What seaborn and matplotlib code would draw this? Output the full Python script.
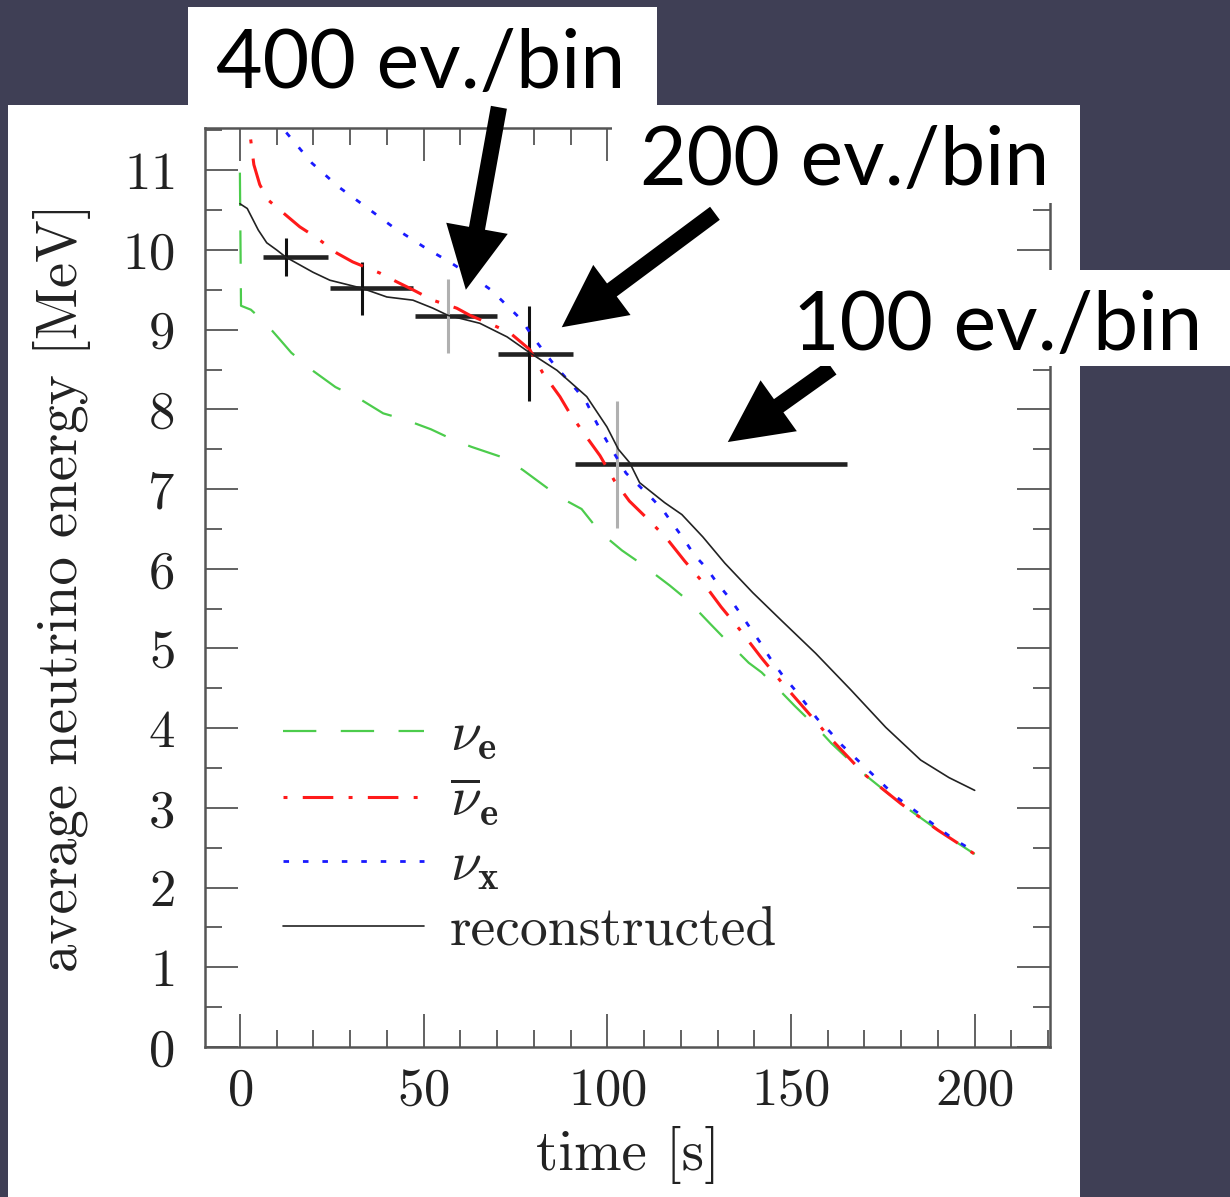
import matplotlib
matplotlib.use("Agg")
import matplotlib.pyplot as plt
from matplotlib.patches import Rectangle
from matplotlib.ticker import MultipleLocator
import seaborn as sns

# average neutrino energy curves
t_nue = [0, 0.3, 3, 7, 11, 14, 20, 26, 33, 39, 45, 52, 58, 63, 72, 77, 87, 93, 98, 104,
         109, 117, 122, 128, 132, 138.5, 142, 147, 151, 157, 161, 170, 180, 190, 200]
E_nue = [10.97, 9.3, 9.25, 9.08, 8.87, 8.71, 8.48, 8.28, 8.12, 7.95, 7.87, 7.75, 7.62, 7.53,
         7.39, 7.24, 6.9, 6.75, 6.46, 6.23, 6.07, 5.79, 5.6, 5.31, 5.12, 4.82, 4.7, 4.47,
         4.28, 4.01, 3.81, 3.42, 3.05, 2.72, 2.42]

t_nuebar = [1.5, 2.7, 3.8, 5.4, 7.6, 10.9, 16.3, 21, 26.4, 30.7, 38.1, 42.7, 47.1, 52.5, 59,
            62.6, 68.8, 73.5, 78.9, 82.4, 87.1, 89.8, 94.4, 98, 102, 106, 110, 116, 121, 126,
            131, 136, 142, 147, 154, 161, 170, 180, 190, 200]
E_nuebar = [12.2, 11.47, 11.07, 10.82, 10.63, 10.5, 10.29, 10.15, 9.96, 9.85, 9.71, 9.6, 9.5,
            9.37, 9.27, 9.18, 9.06, 8.96, 8.75, 8.46, 8.16, 7.95, 7.65, 7.42, 7.1, 6.85, 6.67,
            6.39, 6.1, 5.83, 5.52, 5.24, 4.88, 4.6, 4.23, 3.86, 3.42, 3.05, 2.72, 2.42]

t_nux = [6, 12.5, 19.6, 26.9, 34.3, 41.6, 50, 57.4, 63.4, 68.3, 73.2, 76.7, 79.7, 85.2, 91.7,
         94.4, 97.1, 100.5, 102.5, 105.1, 111.8, 115.1, 118, 120.9, 123.7, 127, 129.9, 133.3,
         136.2, 139, 141.4, 144.3, 147.6, 150.9, 154.3, 157.1, 160.5, 163.8, 167.2, 178.6,
         193.9, 200]
E_nux = [12.4, 11.48, 11.09, 10.79, 10.54, 10.29, 10.04, 9.84, 9.66, 9.5, 9.28, 9.12, 8.91,
         8.58, 8.24, 8.08, 7.83, 7.55, 7.4, 7.2, 6.9, 6.74, 6.55, 6.37, 6.17, 6.01, 5.82, 5.63,
         5.44, 5.25, 5.09, 4.88, 4.67, 4.49, 4.29, 4.12, 3.96, 3.79, 3.64, 3.14, 2.62, 2.45]

t_rec = [0, 2, 5, 7.3, 10, 12.5, 19.9, 24.5, 33.2, 40, 47.1, 52.5, 56.6, 65.3, 72.7, 78.6,
         86.3, 94.4, 99.9, 103, 106.1, 108.8, 115.6, 120.3, 126, 132, 139.6, 147.2, 156.7,
         166.3, 175.8, 185.3, 193, 200]
E_rec = [10.58, 10.52, 10.25, 10.09, 10.0, 9.91, 9.72, 9.62, 9.52, 9.41, 9.37, 9.27, 9.18,
         9.08, 8.91, 8.72, 8.49, 8.16, 7.78, 7.5, 7.33, 7.08, 6.83, 6.68, 6.4, 6.07, 5.7, 5.36,
         4.94, 4.48, 4.01, 3.6, 3.38, 3.22]

# binned reconstruction crosses
bin_t = [12.5, 33.2, 56.6, 78.6, 102.6]
bin_E = [9.91, 9.52, 9.17, 8.70, 7.31]
bin_t_lo = [6.2, 8.7, 9.0, 8.4, 11.4]
bin_t_hi = [11.4, 13.9, 13.3, 12.0, 62.6]
bin_E_err = [0.24, 0.33, 0.46, 0.60, 0.80]
bin_vcolor = ["#111111", "#111111", "#b0b0b0", "#111111", "#b0b0b0"]

labels = [r"$\nu_{\mathbf{e}}$", r"$\overline{\nu}_{\mathbf{e}}$", r"$\nu_{\mathbf{x}}$",
          "reconstructed"]

sns.set_theme(style="ticks")
plt.rcParams["font.family"] = "serif"
plt.rcParams["font.serif"] = ["cmr10"]
plt.rcParams["mathtext.fontset"] = "cm"
plt.rcParams["axes.formatter.use_mathtext"] = True
plt.rcParams["axes.unicode_minus"] = False

fig = plt.figure(figsize=(12.3, 11.97), dpi=100, facecolor="#3f3f55")
W, H = 1230, 1197

# white page behind the plot
fig.patches.append(Rectangle((8 / W, 0), 1072 / W, (H - 105) / H, transform=fig.transFigure,
                             facecolor="white", edgecolor="none", zorder=-5))

ax = fig.add_axes([205 / W, 150 / H, 845 / W, 919 / H])

sns.lineplot(x=t_nue, y=E_nue, ax=ax, color="#4ccc4c", lw=1.6, linestyle=(0, (15, 11)),
             sort=False, estimator=None, label=labels[0], zorder=3)
sns.lineplot(x=t_nuebar, y=E_nuebar, ax=ax, color="#ff1a1a", lw=2.2,
             linestyle=(0, (1.3, 5, 10, 5)), sort=False, estimator=None, label=labels[1], zorder=3)
sns.lineplot(x=t_nux, y=E_nux, ax=ax, color="#1a1aff", lw=2.0, linestyle=(0, (2, 5)),
             sort=False, estimator=None, label=labels[2], zorder=3)
sns.lineplot(x=t_rec, y=E_rec, ax=ax, color="#222222", lw=1.2, sort=False, estimator=None,
             label=labels[3], zorder=4)

ax.errorbar(bin_t, bin_E, xerr=[bin_t_lo, bin_t_hi], fmt="none", ecolor="#222222",
            elinewidth=3.3, capsize=0, zorder=2)
for t, e, err, c in zip(bin_t, bin_E, bin_E_err, bin_vcolor):
    ax.errorbar([t], [e], yerr=[err], fmt="none", ecolor=c, elinewidth=2.2, capsize=0, zorder=2)

ax.set_xlim(-9.5, 220.5)
ax.set_ylim(0, 11.53)
ax.xaxis.set_major_locator(MultipleLocator(50))
ax.xaxis.set_minor_locator(MultipleLocator(10))
ax.yaxis.set_major_locator(MultipleLocator(1))
ax.yaxis.set_minor_locator(MultipleLocator(0.5))
ax.tick_params(which="both", direction="in", top=True, right=True, color="#555555",
               width=1.3, labelsize=38, labelcolor="#222222")
ax.tick_params(which="major", length=24)
ax.tick_params(which="minor", length=12)
ax.tick_params(axis="y", pad=22)
ax.tick_params(axis="x", pad=15)
for s in ax.spines.values():
    s.set_color("#555555")
    s.set_linewidth(1.8)

ax.set_xlabel("time [s]", fontsize=41, labelpad=8, color="#222222")
ax.set_ylabel("average neutrino energy [MeV]", fontsize=41, labelpad=22, color="#222222")

ax.legend(loc="upper left", bbox_to_anchor=(0.092, 0.365), frameon=False, fontsize=40,
          borderpad=0, borderaxespad=0, handlelength=2.54, handletextpad=0.47,
          labelspacing=0.25)

# annotation arrows
for tail, tip in [((70.5, 11.79), (61.5, 9.5)),
                  ((129.3, 10.46), (87.6, 9.03)),
                  ((161.1, 8.52), (132.8, 7.59))]:
    ax.annotate("", xy=tip, xytext=tail, annotation_clip=False, zorder=10,
                arrowprops=dict(arrowstyle="simple,head_length=1.0,head_width=1.0,tail_width=0.26",
                                mutation_scale=45, fc="black", ec="none", lw=0,
                                shrinkA=0, shrinkB=0))

# white label boxes over the plot
for x0, y0, x1, y1 in [(188, 7, 657, 105), (612, 105, 1080, 203), (772, 270, 1230, 366)]:
    fig.patches.append(Rectangle((x0 / W, 1 - y1 / H), (x1 - x0) / W, (y1 - y0) / H,
                                 transform=fig.transFigure, facecolor="white",
                                 edgecolor="none", zorder=5))
for txt, cx, by in [("400 ev./bin", 421, 88), ("200 ev./bin", 845, 185),
                    ("100 ev./bin", 998, 350)]:
    fig.text(cx / W, 1 - by / H, txt, ha="center", va="baseline", fontsize=58,
             family="Lato", color="black", zorder=6)

fig.savefig("out.png", dpi=100, facecolor=fig.get_facecolor())
